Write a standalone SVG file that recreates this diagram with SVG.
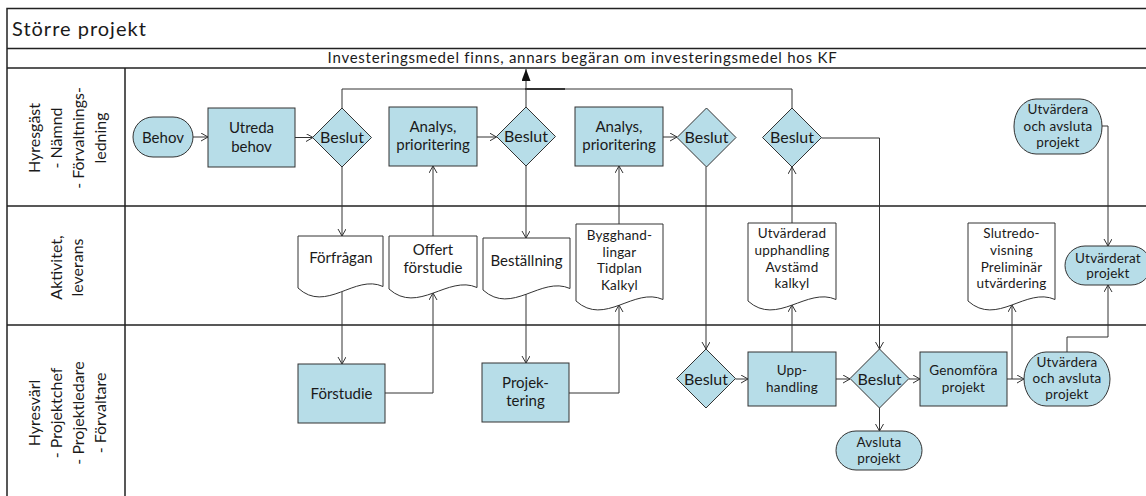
<svg xmlns="http://www.w3.org/2000/svg" width="1146" height="496" viewBox="0 0 1146 496">
<style>
text{font-family:Lato,"Liberation Sans",sans-serif;fill:#1a1a1a}
.frame{stroke:#222;stroke-width:1.5;fill:none}
.sh{fill:#b7dde8;stroke:#333;stroke-width:1}
.doc{fill:#fff;stroke:#333;stroke-width:1}
.n{font-size:15px;text-anchor:middle}
.d{font-size:16px;text-anchor:middle}
.s{font-size:13.5px;text-anchor:middle;letter-spacing:0.2px}
.lane{font-size:16px;text-anchor:middle}
.c{fill:none;stroke:#333;stroke-width:1;marker-end:url(#arr)}
.c0{fill:none;stroke:#333;stroke-width:1}
</style>
<defs>
<marker id="arr" markerUnits="userSpaceOnUse" markerWidth="10" markerHeight="10" refX="7" refY="4" orient="auto">
<path d="M0,0 L7,4 L0,8" fill="none" stroke="#333" stroke-width="1"/>
</marker>
<marker id="farr" markerUnits="userSpaceOnUse" markerWidth="14" markerHeight="12" refX="12" refY="4.5" orient="auto">
<path d="M0,0 L12,4.5 L0,9 z" fill="#111"/>
</marker>
</defs>
<rect width="1146" height="496" fill="#fff"/>
<g id="frame">
<path class="frame" d="M7,496 V8.5 H1146 M7,48.5 H1146 M7,68 H1146 M7,206 H1146 M7,325 H1146 M125,68 V496"/>
<text x="12" y="36" style="font-size:20px;letter-spacing:1px">Större projekt</text>
<text x="582.5" y="63" style="font-size:15px;text-anchor:middle;letter-spacing:0.75px">Investeringsmedel finns, annars begäran om investeringsmedel hos KF</text>
</g>
<g id="lane1">
<text class="lane" transform="translate(0,138) rotate(-90)"><tspan x="0" y="40">Hyresgäst</tspan><tspan x="0" y="61.7">- Nämnd</tspan><tspan x="0" y="84">- Förvaltnings-</tspan><tspan x="0" y="106">ledning</tspan></text>
</g>
<g id="lane2">
<text class="lane" transform="translate(0,267.5) rotate(-90)"><tspan x="0" y="61.7">Aktivitet,</tspan><tspan x="0" y="83.3">leverans</tspan></text>
</g>
<g id="lane3">
<text class="lane" transform="translate(0,413) rotate(-90)"><tspan x="0" y="40">Hyresvärl</tspan><tspan x="0" y="61.7">- Projektchef</tspan><tspan x="0" y="84">- Projektledare</tspan><tspan x="0" y="106">- Förvaltare</tspan></text>
</g>
<g id="connectors">
<path class="c" d="M193,137 H208"/>
<path class="c" d="M295,137.5 H313"/>
<path class="c0" d="M342,108 V89 H525"/>
<path class="c0" d="M792,108 V89 H525"/>
<path class="c0" d="M525,89 H565" style="stroke-width:2"/>
<path d="M526,107 V69" fill="none" stroke="#333" stroke-width="1" marker-end="url(#farr)"/>
<path class="c" d="M477,137 H496.5"/>
<path class="c" d="M663,137 H677"/>
<path class="c" d="M821.5,138 H879.5 V349"/>
<path class="c" d="M1102,126 H1108 V246"/>
<path class="c" d="M342,167 V236"/>
<path class="c" d="M342,292 V364"/>
<path class="c" d="M385,393 H433 V293"/>
<path class="c" d="M433,236 V166"/>
<path class="c" d="M526,166 V238"/>
<path class="c" d="M526,294 V363"/>
<path class="c" d="M569,393 H619 V305"/>
<path class="c" d="M619,224 V166"/>
<path class="c" d="M706,167 V349"/>
<path class="c" d="M735.5,379 H748"/>
<path class="c" d="M792,352 V305"/>
<path class="c" d="M792,223 V167"/>
<path class="c" d="M836,379 H850"/>
<path class="c" d="M879.5,408 V431"/>
<path class="c" d="M909,379 H920"/>
<path class="c" d="M1007,379 H1024"/>
<path class="c" d="M1012,379 V305"/>
<path class="c" d="M1067,352 V337 H1108 V285"/>
</g>
<g id="behov"><rect class="sh" x="133" y="117" width="60" height="40" rx="20"/><text class="n" x="163" y="143">Behov</text></g>
<g id="utreda"><rect class="sh" x="208" y="108" width="87" height="59"/><text class="n" x="251.5"><tspan x="251.5" y="133">Utreda</tspan><tspan x="251.5" y="151.5">behov</tspan></text></g>
<g id="beslut1"><polygon class="sh" points="342,108 371.5,137.5 342,167 312.5,137.5"/><text class="d" x="342" y="142.5">Beslut</text></g>
<g id="analys1"><rect class="sh" x="389" y="107" width="88" height="59"/><text class="n"><tspan x="433" y="131.5">Analys,</tspan><tspan x="433" y="150">prioritering</tspan></text></g>
<g id="beslut2"><polygon class="sh" points="526,107 555.5,136.5 526,166 496.5,136.5"/><text class="d" x="526" y="141.5">Beslut</text></g>
<g id="analys2"><rect class="sh" x="575" y="107" width="88" height="59"/><text class="n"><tspan x="619" y="131.5">Analys,</tspan><tspan x="619" y="150">prioritering</tspan></text></g>
<g id="beslut3"><polygon class="sh" points="706.5,108 736,137.5 706.5,167 677,137.5"/><text class="d" x="706.5" y="142.5">Beslut</text></g>
<g id="beslut4"><polygon class="sh" points="792,108 821.5,137.5 792,167 762.5,137.5"/><text class="d" x="792" y="142.5">Beslut</text></g>
<g id="utvardera1"><rect class="sh" x="1014" y="99" width="88" height="55" rx="22" ry="27"/><text class="s"><tspan x="1058" y="114">Utvärdera</tspan><tspan x="1058" y="130.5">och avsluta</tspan><tspan x="1058" y="146.5">projekt</tspan></text></g>
<g id="forfragan"><path class="doc" d="M298,236 H383 V286.5 C355,273.5 326,314 298,288 Z"/><text class="n" x="341" y="263">Förfrågan</text></g>
<g id="offert"><path class="doc" d="M389,236 H477 V287.5 C448,274.5 418,315 389,289 Z"/><text class="n"><tspan x="433" y="255">Offert</tspan><tspan x="433" y="272.5">förstudie</tspan></text></g>
<g id="bestallning"><path class="doc" d="M483,238 H570 V288.5 C541,275.5 512,316 483,290 Z"/><text class="n" x="526.5" y="266">Beställning</text></g>
<g id="bygghandlingar"><path class="doc" d="M576,224 H663 V299.5 C634,286.5 605,327 576,301 Z"/><text class="s"><tspan x="619.5" y="240">Bygghand-</tspan><tspan x="619.5" y="256.5">lingar</tspan><tspan x="619.5" y="273">Tidplan</tspan><tspan x="619.5" y="289.5">Kalkyl</tspan></text></g>
<g id="utvarderad"><path class="doc" d="M748,223 H836 V299.5 C807,286.5 777,327 748,301 Z"/><text class="s"><tspan x="792" y="238">Utvärderad</tspan><tspan x="792" y="255">upphandling</tspan><tspan x="792" y="271.5">Avstämd</tspan><tspan x="792" y="288">kalkyl</tspan></text></g>
<g id="slutredovisning"><path class="doc" d="M968,223 H1055 V299.5 C1026,286.5 997,327 968,301 Z"/><text class="s"><tspan x="1011.5" y="238">Slutredo-</tspan><tspan x="1011.5" y="255">visning</tspan><tspan x="1011.5" y="271.5">Preliminär</tspan><tspan x="1011.5" y="288">utvärdering</tspan></text></g>
<g id="utvarderat"><rect class="sh" x="1065" y="246" width="86" height="39" rx="20" ry="19.5"/><text class="s"><tspan x="1108" y="262.5">Utvärderat</tspan><tspan x="1108" y="278">projekt</tspan></text></g>
<g id="forstudie"><rect class="sh" x="298" y="364" width="87" height="59"/><text class="n" x="341.5" y="399">Förstudie</text></g>
<g id="projektering"><rect class="sh" x="482" y="363" width="87" height="59"/><text class="n"><tspan x="525.5" y="388">Projek-</tspan><tspan x="525.5" y="405.5">tering</tspan></text></g>
<g id="beslut5"><polygon class="sh" points="706,349 735.5,378.5 706,408 676.5,378.5"/><text class="d" x="706" y="384.5">Beslut</text></g>
<g id="upphandling"><rect class="sh" x="748" y="352" width="88" height="54"/><text class="s"><tspan x="792" y="375">Upp-</tspan><tspan x="792" y="391.5">handling</tspan></text></g>
<g id="beslut6"><polygon class="sh" points="879.5,349 909,378.5 879.5,408 850,378.5"/><text class="d" x="879.5" y="384.5">Beslut</text></g>
<g id="avsluta"><rect class="sh" x="836" y="431" width="86" height="39" rx="20" ry="19.5"/><text class="s"><tspan x="879" y="447">Avsluta</tspan><tspan x="879" y="463">projekt</tspan></text></g>
<g id="genomfora"><rect class="sh" x="920" y="352" width="87" height="54"/><text class="s"><tspan x="963.5" y="375">Genomföra</tspan><tspan x="963.5" y="391.5">projekt</tspan></text></g>
<g id="utvardera2"><rect class="sh" x="1024" y="352" width="86" height="54" rx="22" ry="27"/><text class="s"><tspan x="1067" y="366.5">Utvärdera</tspan><tspan x="1067" y="383">och avsluta</tspan><tspan x="1067" y="399">projekt</tspan></text></g>
</svg>
